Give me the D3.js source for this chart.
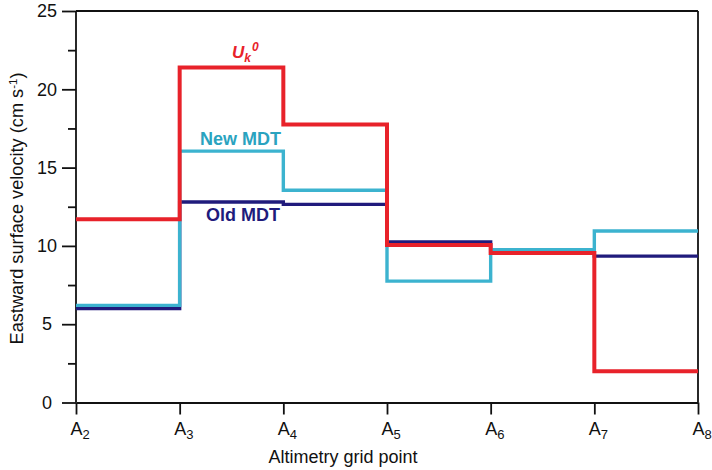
<!DOCTYPE html>
<html>
<head>
<meta charset="utf-8">
<script src="https://cdn.jsdelivr.net/npm/d3@7"></script>
<style>
  html, body { margin: 0; padding: 0; background: #fff; }
  svg { display: block; font-family: "Liberation Sans", Arial, sans-serif; }
</style>
</head>
<body>
<svg id="chart" width="712" height="470"></svg>
<script>
// ---- data ----
const gridPoints = ["2", "3", "4", "5", "6", "7", "8"];        // A2 .. A8
const uk0    = [11.7, 21.4, 17.75, 10.05, 9.55, 2.0];          // U_k^0 (per segment)
const newMDT = [6.2, 16.05, 13.55, 7.75, 9.75, 10.95];         // New MDT
const oldMDT = [6.0, 12.8, 12.65, 10.25, 9.6, 9.35];           // Old MDT
const yMajorTicks = [0, 5, 10, 15, 20, 25];
const yMinorTicks = [2.5, 7.5, 12.5, 17.5, 22.5];

// ---- layout ----
const svg = d3.select("#chart");
const mLeft = 76, mRight = 698, mTop = 11, mBottom = 402.5;

const x = d3.scalePoint().domain(gridPoints).range([mLeft, mRight]);
const y = d3.scaleLinear().domain([0, 25]).range([mBottom, mTop]);

// frame lines (top and right)
const g = svg.append("g");
g.append("line").attr("x1", mLeft).attr("x2", mRight).attr("y1", y(25)).attr("y2", y(25))
  .attr("stroke", "#111").attr("stroke-width", 1.8);
g.append("line").attr("x1", mRight).attr("x2", mRight).attr("y1", y(25)).attr("y2", mBottom)
  .attr("stroke", "#111").attr("stroke-width", 1.8);

// Y axis major
const yAxis = svg.append("g").attr("transform", `translate(${mLeft},0)`)
  .call(d3.axisLeft(y).tickValues(yMajorTicks).tickSize(14).tickFormat(d3.format("d")));
yAxis.select(".domain").remove();
yAxis.selectAll(".tick line").attr("stroke", "#111").attr("stroke-width", 1.8);
yAxis.selectAll(".tick text").attr("x", -29).attr("text-anchor", "middle")
  .attr("font-size", 18).attr("font-family", "Liberation Sans, Arial, sans-serif").attr("fill", "#111");

// Y axis minor
const yMinor = svg.append("g").attr("transform", `translate(${mLeft},0)`)
  .call(d3.axisLeft(y).tickValues(yMinorTicks).tickSize(8).tickFormat(""));
yMinor.select(".domain").remove();
yMinor.selectAll(".tick line").attr("stroke", "#111").attr("stroke-width", 1.8);

// left axis line
svg.append("line").attr("x1", mLeft).attr("x2", mLeft).attr("y1", mTop).attr("y2", mBottom)
  .attr("stroke", "#111").attr("stroke-width", 1.8);

// X axis
const xAxis = svg.append("g").attr("transform", `translate(0,${mBottom})`)
  .call(d3.axisBottom(x).tickSize(12).tickSizeOuter(0).tickFormat(""));
xAxis.select(".domain").attr("stroke", "#111").attr("stroke-width", 1.8);
xAxis.selectAll(".tick line").attr("stroke", "#111").attr("stroke-width", 1.8);

const xl = svg.append("g").selectAll("text").data(gridPoints).join("text")
  .attr("x", d => x(d) - 5.5).attr("y", 435)
  .attr("font-size", 18).attr("fill", "#111");
xl.append("tspan").text("A");
xl.append("tspan").attr("font-size", 13).attr("dy", 3.5).text(d => d);

// axis titles
svg.append("text").attr("x", 343).attr("y", 463).attr("text-anchor", "middle")
  .attr("font-size", 18).attr("fill", "#111").text("Altimetry grid point");

const yt = svg.append("text").attr("transform", "translate(23,208.5) rotate(-90)")
  .attr("text-anchor", "middle").attr("font-size", 18.2).attr("fill", "#111");
yt.append("tspan").text("Eastward surface velocity (cm s");
yt.append("tspan").attr("font-size", 11.5).attr("dy", -6).text("-1");
yt.append("tspan").attr("dy", 6).text(")");

// step lines
const stepPts = vals => gridPoints.map((p, i) => [p, vals[Math.min(i, vals.length - 1)]]);
const line = d3.line().x(d => x(d[0])).y(d => y(d[1])).curve(d3.curveStepAfter);

const series = [
  { vals: oldMDT, color: "#201b7c", w: 3.4 },
  { vals: newMDT, color: "#3cb3cf", w: 3.4 },
  { vals: uk0,    color: "#e8222a", w: 4 }
];
svg.append("g").selectAll("path").data(series).join("path")
  .attr("d", s => line(stepPts(s.vals)))
  .attr("fill", "none").attr("stroke", s => s.color).attr("stroke-width", s => s.w)
  .attr("stroke-linejoin", "miter").attr("stroke-linecap", "butt");

// series labels
const lu = svg.append("text").attr("x", 232).attr("y", 58)
  .attr("fill", "#e8222a").attr("font-weight", "bold").attr("font-style", "italic").attr("font-size", 17);
lu.append("tspan").text("U");
lu.append("tspan").attr("font-size", 12).attr("dy", 4).text("k");
lu.append("tspan").attr("font-size", 12).attr("dy", -11).attr("dx", 1).text("0");

svg.append("text").attr("x", 200).attr("y", 145).attr("fill", "#2aa3bf")
  .attr("font-weight", "bold").attr("font-size", 18).text("New MDT");
svg.append("text").attr("x", 206).attr("y", 221).attr("fill", "#201b7c")
  .attr("font-weight", "bold").attr("font-size", 18).text("Old MDT");
</script>
</body>
</html>
